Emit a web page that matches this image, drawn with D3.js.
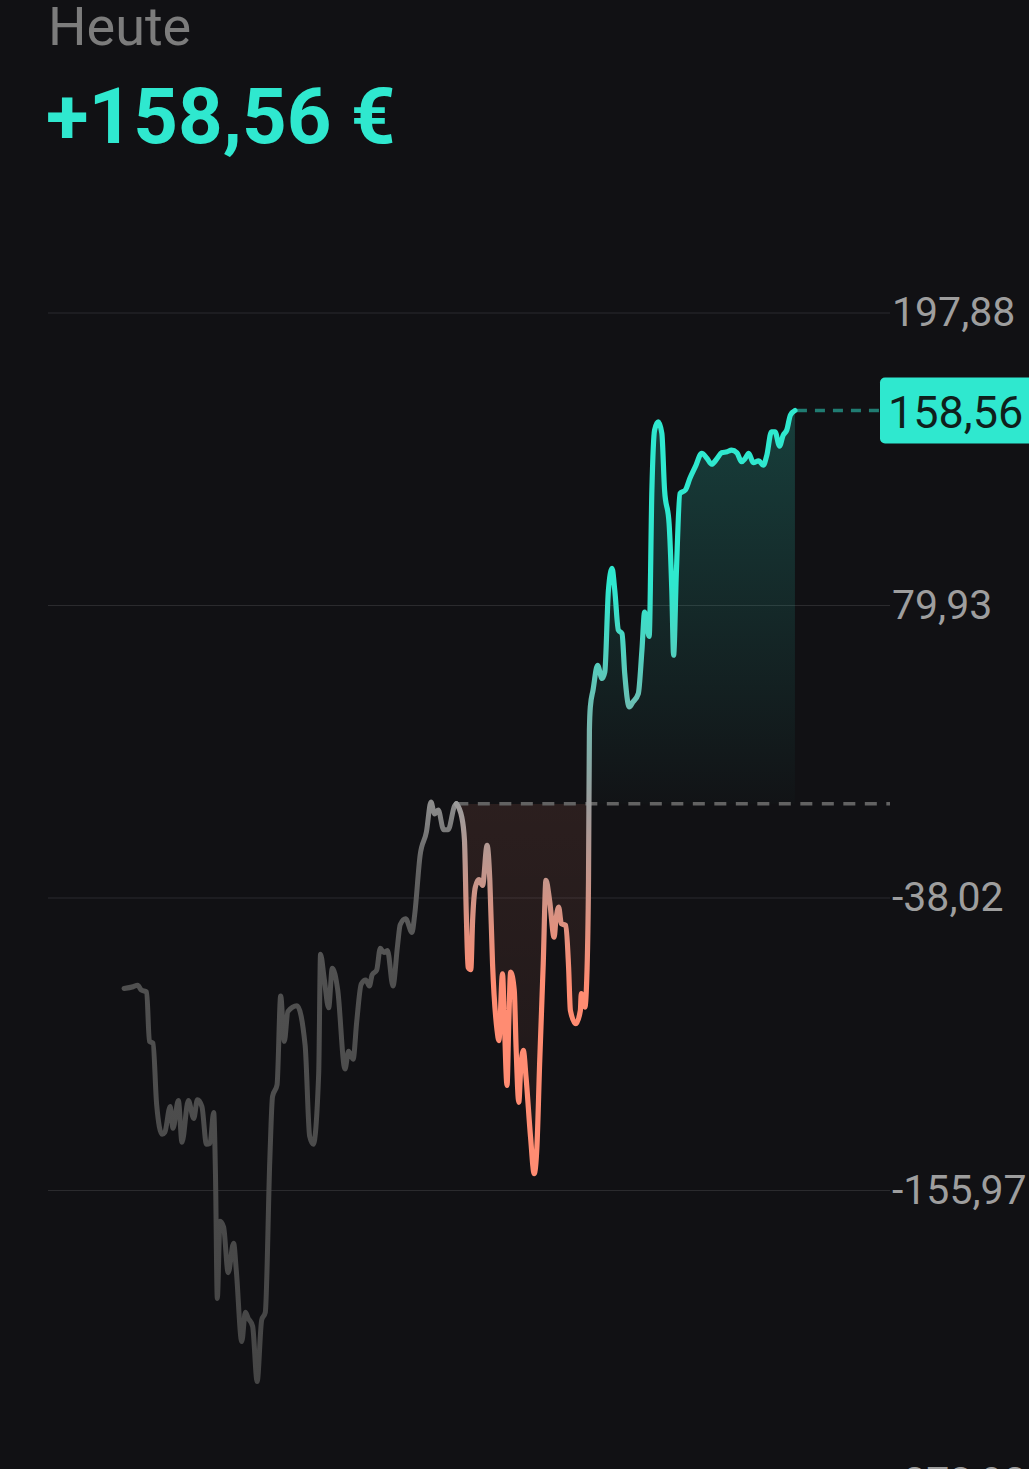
<!DOCTYPE html>
<html><head><meta charset="utf-8">
<script src="https://cdn.jsdelivr.net/npm/d3@7"></script>
<style>html,body{margin:0;padding:0;background:#111114;overflow:hidden}</style>
</head><body>
<svg id="c" width="1029" height="1469"></svg>
<script>
const title = "Heute";
const headline = "+158,56 €";
const tickValues = [197.88, 79.93, -38.02, -155.97, -273.92];
const referenceTime = 451;            // minutes since session start
const sessionMinutes = [0, 930];
const lastValue = 158.56;
const times = [84,94,99,103,109,112,116,120,126,129,135,138,144,148,155,161,165,170,175,179,
  183,185,187,190,194,199,205,208,214,218,221,226,231,236,240,245,248,253,257,261,
  265,275,284,289,293,299,301,305,310,314,320,328,332,337,341,346,351,355,358,363,
  367,371,375,381,386,389,395,402,405,411,418,423,427,431,437,442,449,451,
  457,460,462,464,467,469,472,476,480,485,488,491,496,498,502,504,507,509,511,515,
  517,520,522,525,528,533,537,540,543,547,550,554,559,561,564,567,572,575,577,583,
  588,589,593,595,597,598,599,602,607,612,615,619,623,626,630,634,637,642,646,652,
  656,659,664,667,670,674,678,681,686,689,691,694,698,704,709,715,722,728,733,739,
  744,750,755,761,766,770,774,779,785,790,794,799,803,808,812,816,820,825];
const values = [-74.5,-73.8,-73.2,-75.1,-75.9,-95.8,-96.6,-121.3,-133.3,-132.5,
  -122.1,-130.9,-119.7,-136.5,-119.7,-126.9,-119.4,-122.1,-137.3,-136.9,
  -124.5,-149.9,-199.5,-168.4,-170.8,-189.1,-177.2,-188.3,-216.9,-205.1,
  -207.4,-210.7,-233.0,-208.2,-205.1,-143.6,-118.1,-113.3,-77.5,-95.8,
  -83.8,-81.5,-97.4,-134.1,-137.3,-108.6,-60.7,-70.3,-82.3,-66.3,
  -75.1,-107.0,-99.8,-103.0,-87.8,-72.7,-71.1,-73.5,-69.0,-67.1,
  -58.3,-60.0,-59.2,-73.5,-57.5,-48.8,-46.4,-51.9,-44.8,-20.8,
  -11.3,0.7,-4.1,-2.5,-10.5,-10.5,-0.9,0,
  -5.4,-14.8,-44.3,-65.9,-66.9,-47.0,-33.6,-30.6,-32.9,-16.8,
  -30.9,-64.5,-91.4,-95.5,-68.6,-87.4,-113.6,-87.4,-67.9,-75.3,
  -98.2,-120.4,-107.6,-99.5,-110.3,-134.5,-149.2,-138.5,-104.9,-64.5,
  -30.9,-39.0,-53.8,-47.0,-41.7,-48.4,-49.1,-65.9,-83.4,-88.7,
  -83.4,-76.6,-82.0,-71.3,-30.9,29.6,39.0,45.8,55.8,50.5,
  53.1,86.1,94.9,86.1,70.0,68.6,52.5,39.0,41.0,44.4,
  61.9,77.3,67.5,126.5,150.7,154.0,149.3,126.5,113.0,86.1,
  59.9,92.8,125.1,126.5,131.2,135.9,141.3,139.2,136.9,139.2,
  141.5,141.9,142.6,141.5,137.9,139.2,141.3,137.5,138.3,136.5,
  140.6,150.0,150.0,144.2,148.6,150.7,156.7,158.56];

const TEAL = "#2fe8cf", SALMON = "#ff8c72", BG = "#111114";
const de = d3.formatLocale({decimal:",", thousands:".", grouping:[3], currency:["","€"], minus:"-"});
const fmt = de.format(".2f");

const data = times.map((t,i)=>({t, v: values[i]}));
const pre = data.filter(d=>d.t <= referenceTime);
const post = data.filter(d=>d.t >= referenceTime);

const svg = d3.select("#c");
svg.append("rect").attr("width",1029).attr("height",1469).attr("fill",BG);

const x = d3.scaleLinear().domain(sessionMinutes).range([48, 890]);
const y = d3.scaleLinear().domain([d3.min(tickValues), d3.max(tickValues)]).range([1483, 313]);

const defs = svg.append("defs");
function vGrad(id, stops){
  const top = d3.max(stops, s=>s[0]), bot = d3.min(stops, s=>s[0]);
  const g = defs.append("linearGradient").attr("id", id).attr("gradientUnits","userSpaceOnUse")
    .attr("x1",0).attr("x2",0).attr("y1", y(top)).attr("y2", y(bot));
  stops.forEach(s=>g.append("stop").attr("offset", (y(s[0])-y(top))/(y(bot)-y(top)))
    .attr("stop-color", s[1]).attr("stop-opacity", s[2]==null?1:s[2]));
}
vGrad("preLine", [[0,"#8c8c8c"],[-25,"#636363"],[-70,"#505050"],[-240,"#454545"]]);
vGrad("postLine", [[165,TEAL],[88,TEAL],[0,"#9c9c9c"],[-72,SALMON],[-155,SALMON]]);
vGrad("postFill", [[165,TEAL,0.22],[0.001,TEAL,0.01],[0,SALMON,0.11],[-155,SALMON,0.05]]);

// grid + tick labels
const grid = svg.append("g");
tickValues.forEach(v=>{
  grid.append("line").attr("x1",48).attr("x2",890).attr("y1",y(v)).attr("y2",y(v))
    .attr("stroke","#2b2b2e").attr("stroke-width",1);
  grid.append("text").attr("x",892).attr("y",y(v)+13).text(fmt(v))
    .attr("fill","#9e9e9e").attr("font-family","Roboto, sans-serif").attr("font-size",41);
});

// area fill between line and reference level
const area = d3.area().x(d=>x(d.t)).y0(y(0)).y1(d=>y(d.v)).curve(d3.curveMonotoneX);
svg.append("path").datum(post).attr("d", area).attr("fill","url(#postFill)");

// reference dashed line
svg.append("line").attr("x1", x(referenceTime)).attr("x2", 890).attr("y1", y(0)).attr("y2", y(0))
  .attr("stroke","#626262").attr("stroke-width",3.5).attr("stroke-dasharray","12,9.5");

const line = d3.line().x(d=>x(d.t)).y(d=>y(d.v)).curve(d3.curveMonotoneX);
svg.append("path").datum(pre).attr("d", line).attr("fill","none").attr("stroke","url(#preLine)")
  .attr("stroke-width",5).attr("stroke-linejoin","round").attr("stroke-linecap","round");
svg.append("path").datum(post).attr("d", line).attr("fill","none").attr("stroke","url(#postLine)")
  .attr("stroke-width",5.2).attr("stroke-linejoin","round").attr("stroke-linecap","round");

// last value dashed + badge
const lastT = times[times.length-1];
svg.append("line").attr("x1", x(lastT)+2).attr("x2", 880).attr("y1", y(lastValue)).attr("y2", y(lastValue))
  .attr("stroke", TEAL).attr("stroke-opacity",0.5).attr("stroke-width",3.5).attr("stroke-dasharray","10,8");
svg.append("rect").attr("x",880).attr("y", y(lastValue)-33).attr("width",160).attr("height",66)
  .attr("rx",5).attr("fill",TEAL);
svg.append("text").attr("x",888).attr("y", y(lastValue)+17).text(fmt(lastValue))
  .attr("fill","#0f1f1c").attr("font-family","Roboto, sans-serif").attr("font-size",45);

// header
svg.append("text").attr("x",48).attr("y",45).text(title)
  .attr("fill","#7c7c7c").attr("font-family","Roboto, sans-serif").attr("font-size",54);
svg.append("text").attr("x",46).attr("y",143).text(headline)
  .attr("fill",TEAL).attr("font-family","Roboto, sans-serif").attr("font-weight",700)
  .attr("font-size",78);
</script>
</body></html>
